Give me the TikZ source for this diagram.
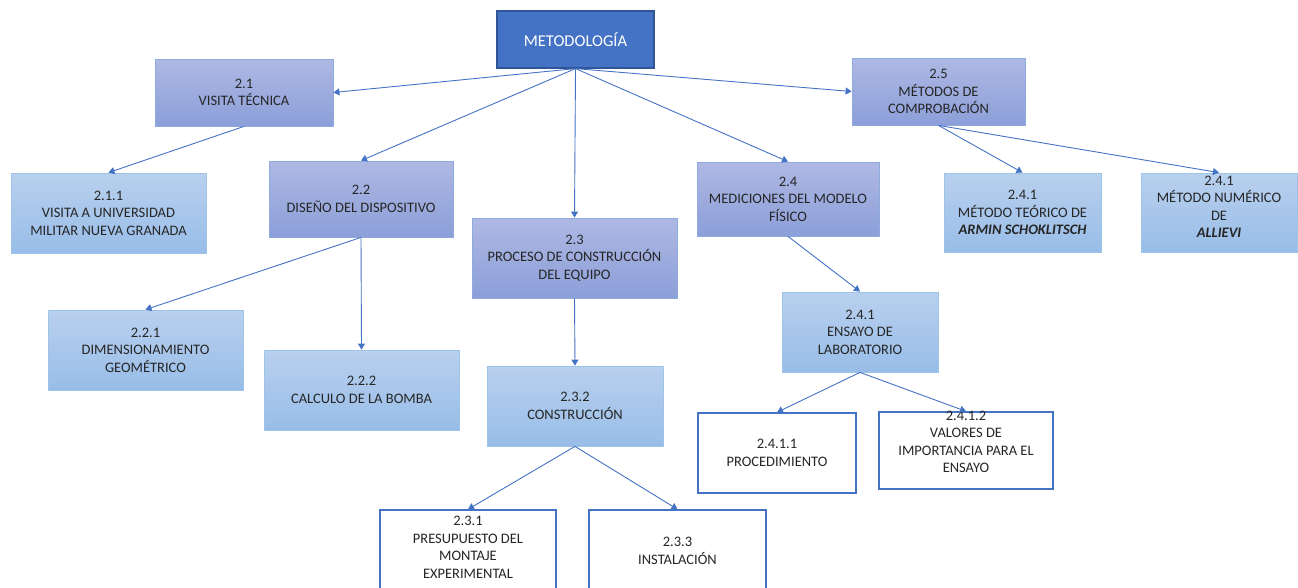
\documentclass[tikz,border=0pt]{standalone}
\usepackage{fontspec}
\setmainfont{Carlito}
\usetikzlibrary{arrows.meta}
\definecolor{textc}{HTML}{262626}
\definecolor{darkfill}{HTML}{4472C4}
\definecolor{darkb}{HTML}{2F5597}
\definecolor{lavt}{HTML}{AEB8E3}
\definecolor{lavbtm}{HTML}{8C9FD9}
\definecolor{lavb}{HTML}{8FAADC}
\definecolor{lbt}{HTML}{B9D0EE}
\definecolor{lbbtm}{HTML}{98BDE8}
\definecolor{lbb}{HTML}{9DC3E6}
\definecolor{wbb}{HTML}{4472C4}
\definecolor{arrc}{HTML}{4472C4}
\tikzset{
  base/.style={draw, rectangle, align=center, font=\fontsize{14.5}{17.5}\selectfont, text=textc, inner sep=0pt},
  topbox/.style={base, draw=darkb, fill=darkfill, text=white, line width=1.2pt, font=\fontsize{16.5}{19}\selectfont},
  lav/.style={base, draw=lavb, top color=lavt, bottom color=lavbtm, line width=0.8pt},
  lblue/.style={base, draw=lbb, top color=lbt, bottom color=lbbtm, line width=0.8pt},
  wbox/.style={base, draw=wbb, fill=white, line width=1.4pt},
  arr/.style={-{Triangle[width=7pt,length=6pt]}, draw=arrc, line width=0.9pt}
}
\begin{document}
\begin{tikzpicture}[x=1pt,y=-1pt]
\useasboundingbox (0,0) rectangle (1298,587);
% nodes
\node[topbox, minimum width=157, minimum height=57] (m) at (575.5,39.5) {METODOLOGÍA};
\node[lav, minimum width=178, minimum height=67] (n21) at (244,92.5) {2.1\\VISITA TÉCNICA};
\node[lblue, minimum width=195, minimum height=80] (n211) at (108.5,213) {2.1.1\\VISITA A UNIVERSIDAD\\MILITAR NUEVA GRANADA};
\node[lav, minimum width=184, minimum height=76] (n22) at (361,199) {2.2\\DISEÑO DEL DISPOSITIVO};
\node[lblue, minimum width=195, minimum height=80] (n221) at (145.5,350) {2.2.1\\DIMENSIONAMIENTO\\GEOMÉTRICO};
\node[lblue, minimum width=195, minimum height=80] (n222) at (361.5,390) {2.2.2\\CALCULO DE LA BOMBA};
\node[lav, minimum width=205, minimum height=80] (n23) at (574.5,258) {2.3\\PROCESO DE CONSTRUCCIÓN\\DEL EQUIPO};
\node[lblue, minimum width=176, minimum height=80] (n232) at (575,406) {2.3.2\\CONSTRUCCIÓN};
\node[wbox, minimum width=176, minimum height=100] (n231) at (468,560) {};
\node[text=textc, align=center, font=\fontsize{14.5}{17.5}\selectfont, inner sep=0pt, anchor=north] (t231) at (468,516) {2.3.1\\PRESUPUESTO DEL\\MONTAJE\\EXPERIMENTAL};
\node[wbox, minimum width=177, minimum height=100] (n233) at (677.5,560) {};
\node[text=textc, align=center, font=\fontsize{14.5}{17.5}\selectfont, inner sep=0pt] (t233) at (677.5,551) {2.3.3\\INSTALACIÓN};
\node[lav, minimum width=182, minimum height=74] (n24) at (788,199) {2.4\\MEDICIONES DEL MODELO\\FÍSICO};
\node[lblue, minimum width=156, minimum height=80] (n241) at (860,332) {2.4.1\\ENSAYO DE\\LABORATORIO};
\node[wbox, minimum width=158, minimum height=80] (n2411) at (777,453) {2.4.1.1\\PROCEDIMIENTO};
\node[wbox, minimum width=174, minimum height=77] (n2412) at (966,450.5) {};
\node[text=textc, align=center, font=\fontsize{14.5}{17.5}\selectfont, inner sep=0pt] (t2412) at (966,442) {2.4.1.2\\VALORES DE\\IMPORTANCIA PARA EL\\ENSAYO};
\node[lav, minimum width=173, minimum height=67] (n25) at (938.5,91.5) {2.5\\MÉTODOS DE\\COMPROBACIÓN};
\node[lblue, minimum width=157, minimum height=79] (na) at (1022.5,212.5) {2.4.1\\MÉTODO TEÓRICO DE\\\textbf{\textit{ARMIN SCHOKLITSCH}}};
\node[lblue, minimum width=156, minimum height=79] (nb) at (1219,212.5) {};
\node[text=textc, align=center, font=\fontsize{14.5}{17.5}\selectfont, inner sep=0pt] (tb) at (1219,207) {2.4.1\\MÉTODO NUMÉRICO\\DE\\\textbf{\textit{ALLIEVI}}};
% connectors
\draw[arr] (m.south) -- (n21.east);
\draw[arr] (m.south) -- (n22.north);
\draw[arr] (m.south) -- (n23.north);
\draw[arr] (m.south) -- (n24.north);
\draw[arr] (m.south) -- (n25.west);
\draw[arr] (n21.south) -- (n211.north);
\draw[arr] (n22.south) -- (n221.north);
\draw[arr] (n22.south) -- (n222.north);
\draw[arr] (n23.south) -- (n232.north);
\draw[arr] (n232.south) -- (n231.north);
\draw[arr] (n232.south) -- (n233.north);
\draw[arr] (n24.south) -- (n241.north);
\draw[arr] (n241.south) -- (n2411.north);
\draw[arr] (n241.south) -- (n2412.north);
\draw[arr] (n25.south) -- (na.north);
\draw[arr] (n25.south) -- (nb.north);
\end{tikzpicture}
\end{document}
